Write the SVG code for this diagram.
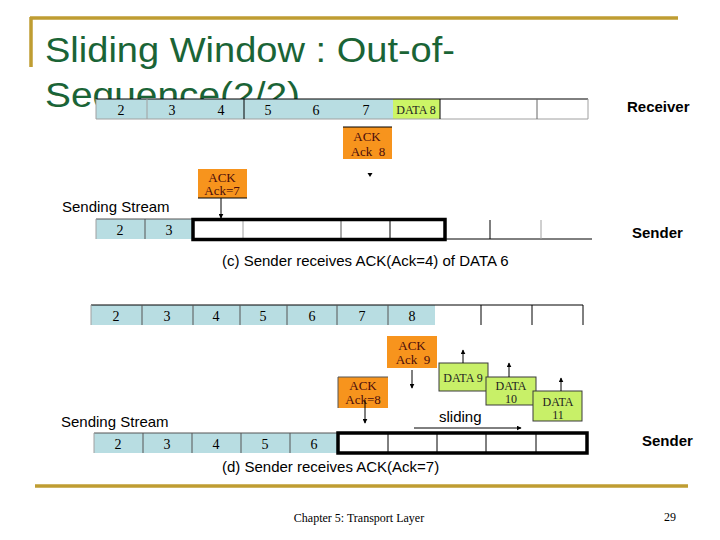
<svg xmlns="http://www.w3.org/2000/svg" width="720" height="540" viewBox="0 0 720 540">
<defs>
<marker id="ah" viewBox="0 0 8 8" refX="7" refY="4" markerWidth="5" markerHeight="5" orient="auto" markerUnits="userSpaceOnUse">
<path d="M0,0 L8,4 L0,8 z" fill="#000"/>
</marker>
<style>
.title{font-family:"Liberation Sans",Arial,sans-serif;font-size:35px;fill:#1a6436}
.num{font-family:"Liberation Serif","Times New Roman",serif;font-size:14px;fill:#000;text-anchor:middle}
.lbl{font-family:"Liberation Sans",Arial,sans-serif;font-size:15px;fill:#000}
.bold{font-family:"Liberation Sans",Arial,sans-serif;font-size:15px;font-weight:bold;fill:#000}
.ack{fill:#f7941d}
.ackt{font-family:"Liberation Serif","Times New Roman",serif;font-size:13px;fill:#4a0c0c;text-anchor:middle}
.dat{fill:#c8f068;stroke:#3a3a3a;stroke-width:1}
.datt{font-family:"Liberation Serif","Times New Roman",serif;font-size:12px;fill:#222;text-anchor:middle}
.blue{fill:#b8dde2}
.gl{stroke:#a0a0a0;stroke-width:1}
.dl{stroke:#000;stroke-width:1}
.win{fill:none;stroke:#000;stroke-width:3.5}
.arr{stroke:#000;stroke-width:1;marker-end:url(#ah)}
.gold{stroke:#bf9d32;stroke-width:3.5}
.foot{font-family:"Liberation Serif","Times New Roman",serif;font-size:12px;fill:#000}
</style>
</defs>
<rect width="720" height="540" fill="#fff"/>

<g id="frame">
<line class="gold" x1="30" y1="18" x2="678" y2="18"/>
<line class="gold" x1="31" y1="17" x2="31" y2="67"/>
<line class="gold" x1="35" y1="486" x2="688" y2="486"/>
</g>

<g id="title">
<text class="title" x="45" y="62" textLength="410" lengthAdjust="spacingAndGlyphs">Sliding Window : Out-of-</text>
<text class="title" x="45" y="107" textLength="255" lengthAdjust="spacingAndGlyphs">Sequence(2/2)</text>
</g>

<g id="receiver-row-c">
<rect class="blue" x="96" y="99" width="297" height="20"/>
<rect x="393" y="99" width="47" height="20" fill="#ccf566"/>
<rect x="440" y="99" width="148" height="20" fill="#fff"/>
<line class="dl" x1="96" y1="99" x2="588" y2="99"/>
<line class="gl" x1="96" y1="119" x2="588" y2="119"/>
<line class="gl" x1="96" y1="99" x2="96" y2="119"/>
<line class="gl" x1="147" y1="99" x2="147" y2="119"/>
<line class="dl" x1="244" y1="99" x2="244" y2="119"/>
<line class="dl" x1="440" y1="99" x2="440" y2="119"/>
<line stroke="#666" x1="537" y1="99" x2="537" y2="119"/>
<line class="gl" x1="588" y1="99" x2="588" y2="119"/>
<text class="num" x="121" y="115">2</text>
<text class="num" x="172" y="115">3</text>
<text class="num" x="221" y="115">4</text>
<text class="num" x="268" y="115">5</text>
<text class="num" x="316" y="115">6</text>
<text class="num" x="366" y="115">7</text>
<text class="datt" x="416" y="114" font-size="13">DATA 8</text>
<text class="bold" x="627" y="112">Receiver</text>
</g>

<g id="ack8-c">
<rect class="ack" x="343" y="127" width="49" height="32"/>
<line class="dl" x1="343" y1="127" x2="392" y2="127"/>
<text class="ackt" x="367" y="141">ACK</text>
<text class="ackt" x="368" y="156" xml:space="preserve">Ack  8</text>
</g>

<g id="ack7-c">
<rect class="ack" x="198" y="169" width="49" height="29"/>
<line class="dl" x1="198" y1="198" x2="247" y2="198"/>
<text class="ackt" x="222" y="182">ACK</text>
<text class="ackt" x="222" y="195">Ack=7</text>
</g>

<g id="sender-row-c">
<text class="lbl" x="62" y="212">Sending Stream</text>
<rect class="blue" x="96" y="219" width="97" height="20"/>
<line stroke="#555" x1="96" y1="219" x2="193" y2="219"/>
<line class="gl" x1="96" y1="219" x2="96" y2="239"/>
<line stroke="#555" x1="145" y1="219" x2="145" y2="239"/>
<line class="gl" x1="243" y1="220" x2="243" y2="239"/>
<line stroke="#555" x1="341" y1="220" x2="341" y2="239"/>
<line class="dl" x1="390" y1="220" x2="390" y2="239"/>
<rect class="win" x="193" y="219.5" width="252" height="20"/>
<line class="dl" x1="445" y1="239" x2="592" y2="239"/>
<line class="dl" x1="490" y1="220" x2="490" y2="239"/>
<line class="gl" x1="541" y1="220" x2="541" y2="239"/>
<text class="num" x="120" y="235">2</text>
<text class="num" x="169" y="235">3</text>
<text class="bold" x="632" y="238">Sender</text>
<text class="lbl" x="222" y="266">(c) Sender receives ACK(Ack=4) of DATA 6</text>
</g>

<g id="receiver-row-d">
<rect class="blue" x="91" y="305" width="344" height="20"/>
<line class="dl" x1="91" y1="305" x2="583" y2="305"/>
<line class="gl" x1="91" y1="305" x2="91" y2="325"/>
<line stroke="#555" x1="142" y1="305" x2="142" y2="325"/>
<line stroke="#555" x1="193" y1="305" x2="193" y2="325"/>
<line stroke="#555" x1="240" y1="305" x2="240" y2="325"/>
<line stroke="#555" x1="287" y1="305" x2="287" y2="325"/>
<line stroke="#555" x1="337" y1="305" x2="337" y2="325"/>
<line stroke="#555" x1="388" y1="305" x2="388" y2="325"/>
<line class="dl" x1="481" y1="305" x2="481" y2="325"/>
<line class="dl" x1="532" y1="305" x2="532" y2="325"/>
<line class="dl" x1="583" y1="305" x2="583" y2="325"/>
<text class="num" x="116" y="321">2</text>
<text class="num" x="167" y="321">3</text>
<text class="num" x="216" y="321">4</text>
<text class="num" x="263" y="321">5</text>
<text class="num" x="312" y="321">6</text>
<text class="num" x="362" y="321">7</text>
<text class="num" x="412" y="321">8</text>
</g>

<g id="ack9-d">
<rect class="ack" x="387" y="336" width="50" height="32"/>
<text class="ackt" x="412" y="350">ACK</text>
<text class="ackt" x="413" y="364" xml:space="preserve">Ack  9</text>
</g>

<g id="ack8-d">
<rect class="ack" x="338" y="377" width="50" height="31"/>
<line stroke="#555" x1="338" y1="377" x2="388" y2="377"/>
<line stroke="#555" x1="338" y1="377" x2="338" y2="408"/>
<text class="ackt" x="363" y="390">ACK</text>
<text class="ackt" x="363" y="404">Ack=8</text>
</g>

<g id="data9">
<rect class="dat" x="439" y="363" width="49" height="28"/>
<text class="datt" x="463" y="382">DATA 9</text>
</g>
<g id="data10">
<rect class="dat" x="486" y="377" width="50" height="28"/>
<text class="datt" x="511" y="390">DATA</text>
<text class="datt" x="511" y="403">10</text>
</g>
<g id="data11">
<rect class="dat" x="533" y="391" width="49" height="30"/>
<text class="datt" x="558" y="406">DATA</text>
<text class="datt" x="558" y="419">11</text>
</g>

<g id="sender-row-d">
<text class="lbl" x="61" y="427">Sending Stream</text>
<text class="lbl" x="439" y="422">sliding</text>
<rect class="blue" x="94" y="433" width="244" height="20"/>
<line stroke="#555" x1="94" y1="433" x2="338" y2="433"/>
<line class="gl" x1="94" y1="433" x2="94" y2="453"/>
<line stroke="#555" x1="143" y1="433" x2="143" y2="453"/>
<line stroke="#555" x1="192" y1="433" x2="192" y2="453"/>
<line stroke="#555" x1="241" y1="433" x2="241" y2="453"/>
<line stroke="#555" x1="290" y1="433" x2="290" y2="453"/>
<line class="dl" x1="388" y1="433" x2="388" y2="453"/>
<line class="dl" x1="437" y1="433" x2="437" y2="453"/>
<line class="dl" x1="486" y1="433" x2="486" y2="453"/>
<line class="dl" x1="536" y1="433" x2="536" y2="453"/>
<rect class="win" x="338" y="433" width="249" height="20"/>
<text class="num" x="118" y="449">2</text>
<text class="num" x="167" y="449">3</text>
<text class="num" x="216" y="449">4</text>
<text class="num" x="265" y="449">5</text>
<text class="num" x="314" y="449">6</text>
<text class="bold" x="642" y="446">Sender</text>
<text class="lbl" x="222" y="472">(d) Sender receives ACK(Ack=7)</text>
</g>

<g id="connectors">
<path d="M367.5,173 L372.5,173 L370,177 z" fill="#000"/>
<line class="arr" x1="221" y1="198" x2="221" y2="218"/>
<line class="arr" x1="412" y1="370" x2="412" y2="388"/>
<line class="arr" x1="365" y1="400" x2="365" y2="423"/>
<line class="arr" x1="463" y1="363" x2="463" y2="350"/>
<line class="arr" x1="509" y1="377" x2="509" y2="363"/>
<line class="arr" x1="561" y1="391" x2="561" y2="378"/>
<line class="arr" x1="414" y1="428" x2="521" y2="428"/>
</g>

<g id="footer">
<text class="foot" x="359" y="522" text-anchor="middle">Chapter 5: Transport Layer</text>
<text class="foot" x="670" y="521" text-anchor="middle">29</text>
</g>
</svg>
